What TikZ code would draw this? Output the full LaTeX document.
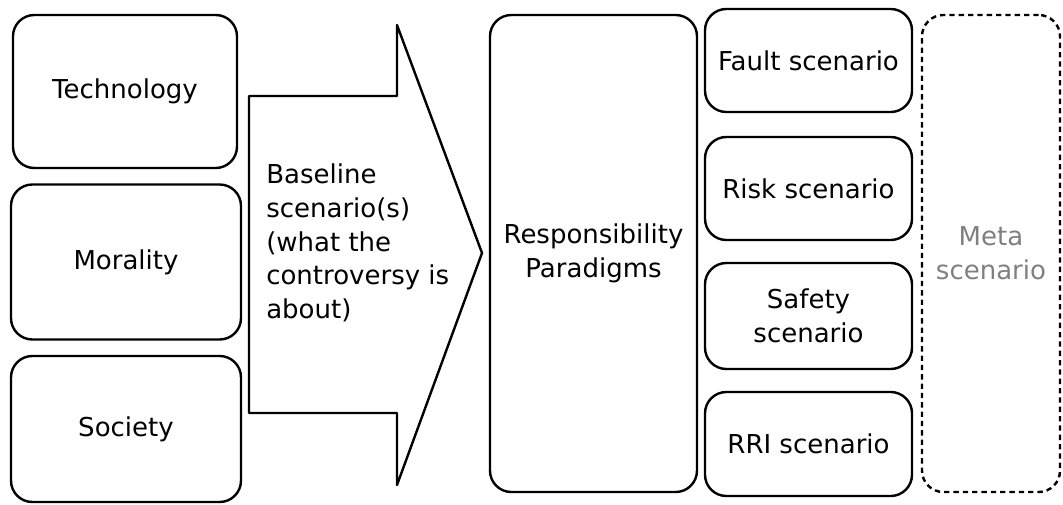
\documentclass[tikz,border=0pt]{standalone}
\usepackage{fontspec}
\setmainfont{DejaVu Sans}
\usetikzlibrary{positioning}
\definecolor{metagray}{gray}{0.5}
\tikzset{
	pbox/.style={draw, line width=1.8pt, rounded corners=16pt, inner sep=0pt, outer sep=0pt, align=center},
	lbl/.style={font=\fontsize{19.5}{25.2}\selectfont}
}

\begin{document}
\begin{tikzpicture}[x=0.75pt,y=-0.75pt,lbl]
				%\draw[color=gray,step=10, help lines,opacity=0.3] (0,0) grid (1063,504); %help grids
				\useasboundingbox (0,0) rectangle (1063,504);
				% three sources
				\node[pbox, minimum width=168pt, minimum height=114.75pt] (tech) at (125,91.5) {Technology};
				\node[pbox, minimum width=172.5pt, minimum height=116.25pt] (moral) at (126,262) {Morality};
				\node[pbox, minimum width=172.5pt, minimum height=109.5pt] (soc) at (126,429) {Society};
				% big arrow
				\draw[line width=1.8pt, line join=round] (249,96) -- (397,96) -- (397,25) -- (482,253) -- (397,485) -- (397,413) -- (249,413) -- cycle;
				\node[anchor=west, align=left, inner sep=0pt] (base) at (266,243) {Baseline\\scenario(s)\\(what the\\controversy is\\about)};
				% paradigms
				\node[pbox, minimum width=155.25pt, minimum height=357.75pt] (resp) at (593.5,253.5) {Responsibility\\Paradigms};
				\node[pbox, minimum width=155.25pt, minimum height=77.25pt] (fault) at (808.5,60.5) {Fault scenario};
				\node[pbox, minimum width=155.25pt, minimum height=77.25pt] (risk) at (808.5,188.5) {Risk scenario};
				\node[pbox, minimum width=155.25pt, minimum height=79.5pt] (safety) at (808.5,316) {Safety\\scenario};
				\node[pbox, minimum width=155.25pt, minimum height=78pt] (rri) at (808.5,444) {RRI scenario};
				\node[pbox, dash pattern=on 4pt off 3pt, text=metagray, minimum width=103.5pt, minimum height=357.75pt] (meta) at (991,253.5) {Meta\\scenario};
\end{tikzpicture}
\end{document}
